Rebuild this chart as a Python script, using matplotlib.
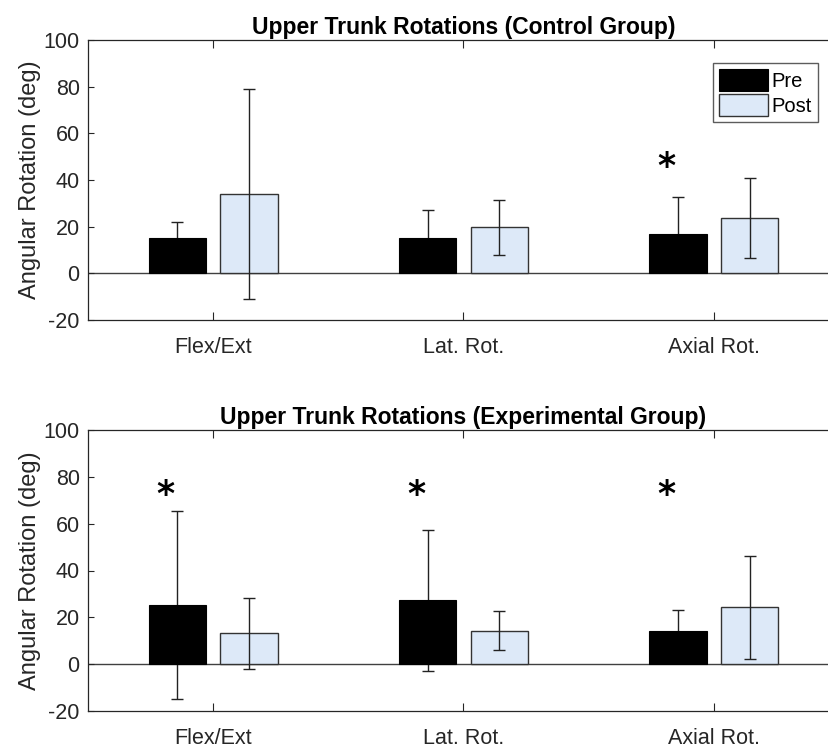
import matplotlib
matplotlib.use('Agg')
import matplotlib.pyplot as plt
import matplotlib.transforms as mtransforms
import numpy as np

plt.rcParams['font.family'] = ['Liberation Sans', 'DejaVu Sans']
plt.rcParams['axes.unicode_minus'] = False

categories = ['Flex/Ext', 'Lat. Rot.', 'Axial Rot.']
titles = ['Upper Trunk Rotations (Control Group)',
          'Upper Trunk Rotations (Experimental Group)']

# mean and sd per group, pre / post
control_pre = [15.0, 15.0, 16.7]
control_pre_sd = [7.0, 12.0, 16.0]
control_post = [34.0, 19.7, 23.8]
control_post_sd = [45.0, 11.8, 17.2]

exp_pre = [25.3, 27.2, 14.2]
exp_pre_sd = [40.0, 30.3, 9.0]
exp_post = [13.1, 14.2, 24.2]
exp_post_sd = [15.3, 8.3, 22.0]

# significance markers: (category index, y)
control_stars = [(2, 48.6)]
exp_stars = [(0, 75.4), (1, 75.4), (2, 75.4)]

pre_color = 'black'
post_color = '#dde9f8'
axis_gray = '#262626'

fig = plt.figure(figsize=(8.29, 7.51), dpi=100)
W, H = 829, 751
ax_top = fig.add_axes([88 / W, 1 - 320 / H, 751 / W, 280 / H])
ax_bot = fig.add_axes([88 / W, 1 - 711 / H, 751 / W, 281 / H])

x = np.arange(1, len(categories) + 1)
bw = 0.229
off = 0.143


def draw(ax, title, pre, pre_sd, post, post_sd, stars, legend=False):
    ax.errorbar(x - off, pre, yerr=pre_sd, fmt='none', ecolor='#222222',
                elinewidth=1.0, capsize=4, capthick=1.0, zorder=1.5)
    ax.bar(x - off, pre, bw, color=pre_color, edgecolor='black',
           linewidth=0.8, label='Pre', zorder=2)
    ax.bar(x + off, post, bw, color=post_color, edgecolor='#333333',
           linewidth=1.0, label='Post', zorder=2)
    ax.errorbar(x + off, post, yerr=post_sd, fmt='none', ecolor='#222222',
                elinewidth=1.0, capsize=4, capthick=1.0, zorder=3)
    ax.axhline(0, color='#404040', linewidth=1.0, zorder=1)
    star_tr = mtransforms.offset_copy(ax.transData, fig=fig, y=-7, units='dots')
    for i, yv in stars:
        ax.text(x[i] - 0.19, yv, '*', ha='center', va='center',
                fontsize=25, fontweight='bold', color='black',
                family='DejaVu Sans', transform=star_tr)
    ax.set_xlim(0.5, 3.5)
    ax.set_ylim(-20, 100)
    ax.set_yticks(np.arange(-20, 101, 20))
    ax.set_xticks(x)
    ax.set_xticklabels(categories)
    ax.tick_params(axis='both', direction='in', colors=axis_gray,
                   labelsize=15.5, labelcolor=axis_gray, width=0.8)
    ax.tick_params(axis='x', length=6, top=True, pad=12)
    ax.tick_params(axis='y', length=4, pad=6)
    for s in ax.spines.values():
        s.set_color(axis_gray)
        s.set_linewidth(0.9)
    ax.set_ylabel('Angular Rotation (deg)', fontsize=17, color=axis_gray,
                  labelpad=2)
    ax.set_title(title, fontsize=16.5, fontweight='bold', color='black', pad=4)
    if legend:
        ax.legend(loc='upper left', bbox_to_anchor=(624.7 / 751, 1 - 23 / 280),
                  frameon=True, fancybox=False, edgecolor='#333333',
                  fontsize=14.5, handlelength=2.45, handleheight=1.3,
                  handletextpad=0.15, borderpad=0.3, labelspacing=0.15,
                  borderaxespad=0)


draw(ax_top, titles[0], control_pre, control_pre_sd, control_post,
     control_post_sd, control_stars, legend=True)
draw(ax_bot, titles[1], exp_pre, exp_pre_sd, exp_post, exp_post_sd, exp_stars)

fig.savefig('out.png', dpi=100)
